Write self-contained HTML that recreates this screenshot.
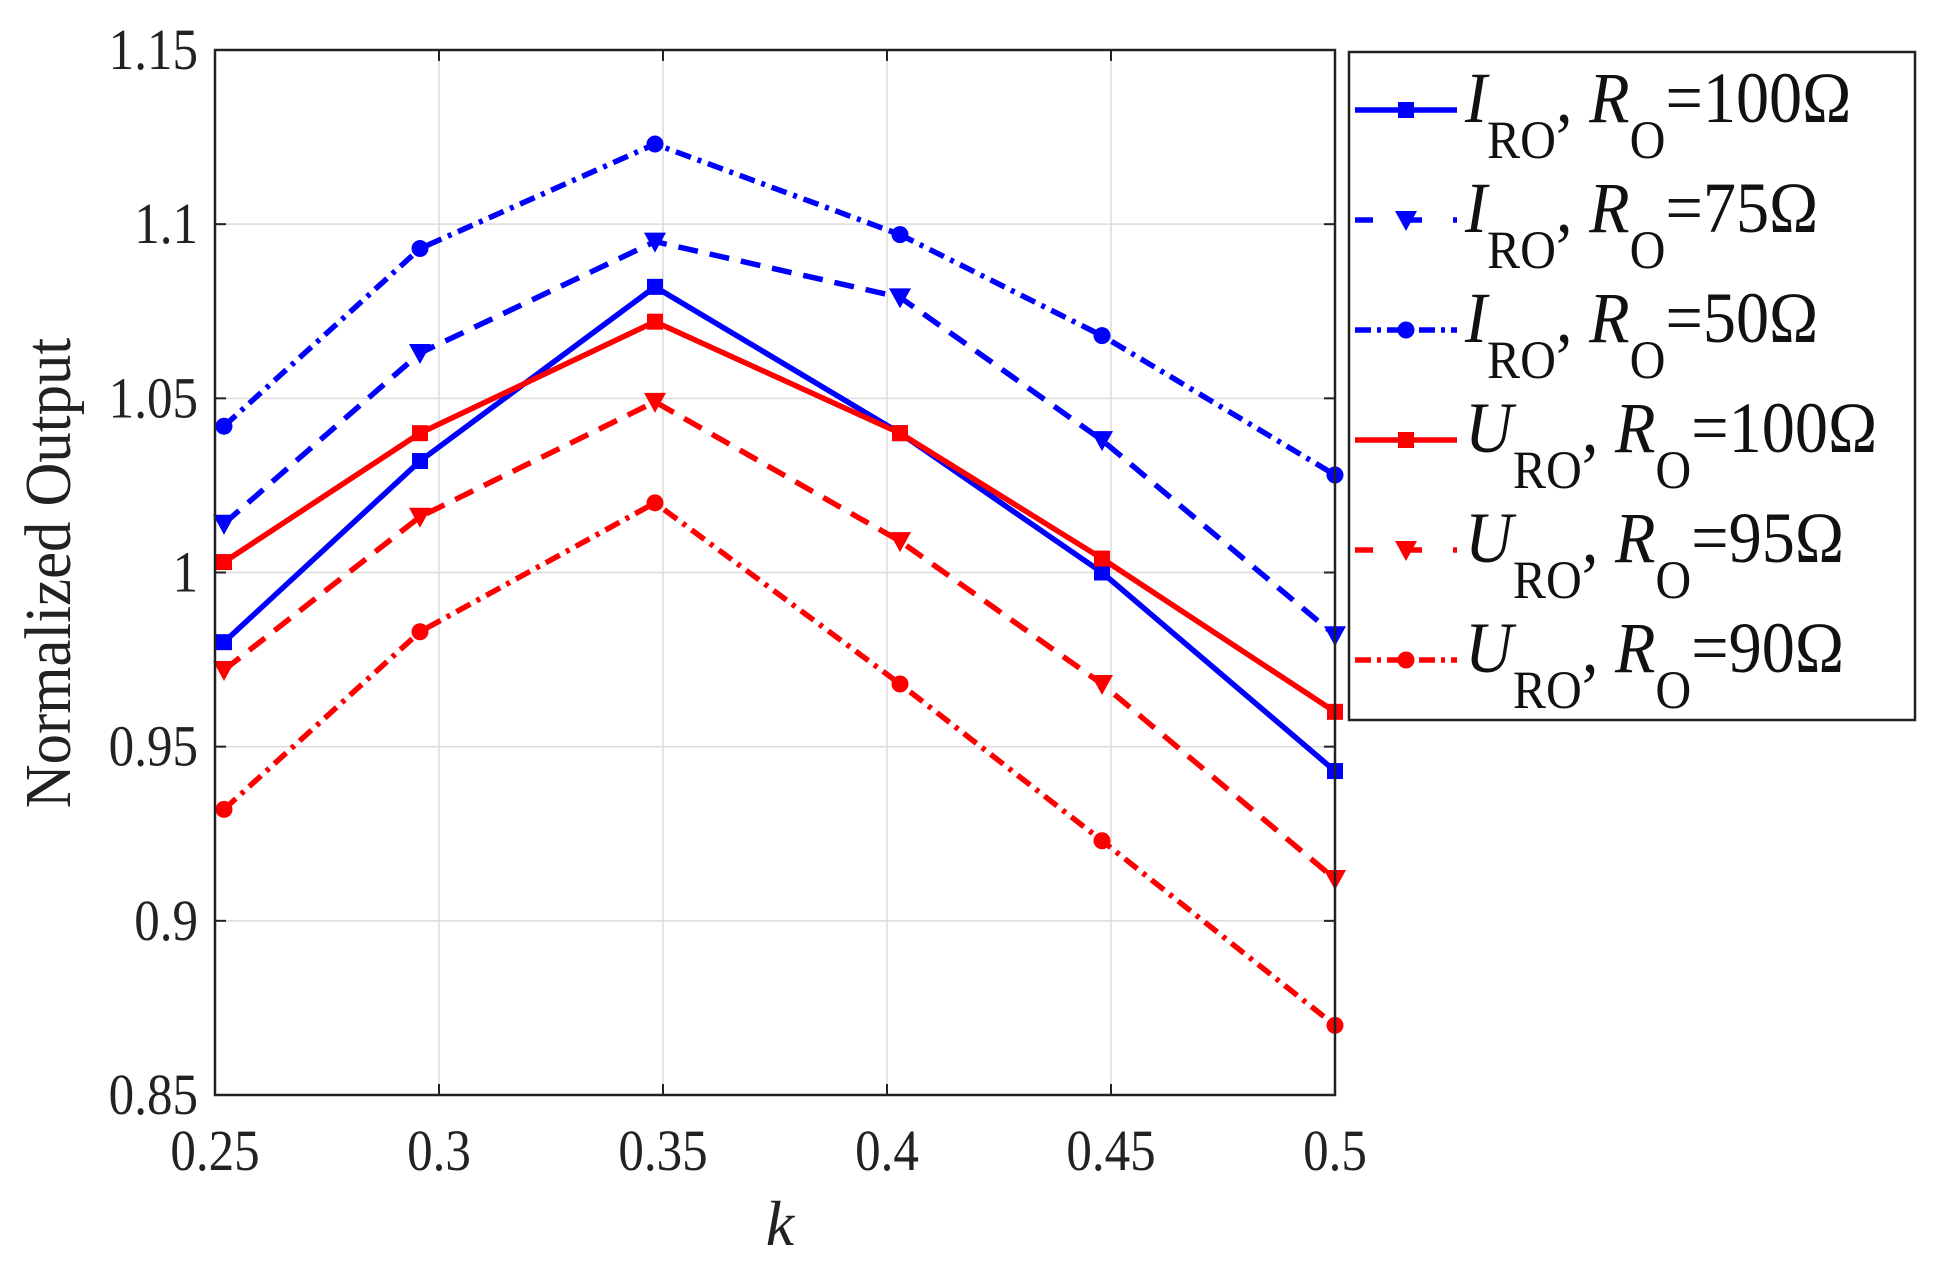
<!DOCTYPE html>
<html><head><meta charset="utf-8"><style>
html,body{margin:0;padding:0;background:#fff;}
svg{display:block;font-family:"Liberation Serif",serif;}
</style></head><body>
<svg id="s" width="1938" height="1263" viewBox="0 0 1938 1263" xmlns="http://www.w3.org/2000/svg">
<rect width="1938" height="1263" fill="#fff"/>
<g id="grid" stroke="#dcdcdc" stroke-width="1.5"></g>
<g id="series"></g>
<rect x="215" y="50" width="1120" height="1045" fill="none" stroke="#222" stroke-width="2.5"/>
<g id="ticks" stroke="#222" stroke-width="2"></g>
<g id="labels" font-size="58" fill="#222"></g>
<text x="780" y="1245" font-size="64" font-style="italic" text-anchor="middle" fill="#222">k</text>
<text transform="translate(70,573) rotate(-90) scale(0.92,1)" font-size="66" text-anchor="middle" fill="#222">Normalized Output</text>
<rect x="1349" y="52" width="566" height="668" fill="#fff" stroke="#222" stroke-width="2.5"/>
<g id="legend"></g>
</svg>
<script>
const NS="http://www.w3.org/2000/svg";
function el(p,t,a,txt){const e=document.createElementNS(NS,t);for(const k in a)e.setAttribute(k,a[k]);if(txt!==undefined)e.textContent=txt;(typeof p==='string'?document.getElementById(p):p).appendChild(e);return e;}
const L=215,R=1335,T=50,B=1095;
const Y=v=>T+(1.15-v)/0.3*(B-T);
const xt=[0.25,0.3,0.35,0.4,0.45,0.5];
xt.forEach((k,i)=>{const x=L+(R-L)*i/5;
 if(i>0&&i<5){el('grid','line',{x1:x,y1:T,x2:x,y2:B});}
 el('ticks','line',{x1:x,y1:B,x2:x,y2:B-11});el('ticks','line',{x1:x,y1:T,x2:x,y2:T+11});
 el('labels','text',{x:x,y:1170,'text-anchor':'middle',transform:`translate(${x},0) scale(0.88,1) translate(${-x},0)`},String(k));});
['0.85','0.9','0.95','1','1.05','1.1','1.15'].forEach(s=>{const y=Y(+s);
 if(s!=='0.85'&&s!=='1.15')el('grid','line',{x1:L,y1:y,x2:R,y2:y});
 el('ticks','line',{x1:L,y1:y,x2:L+11,y2:y});el('ticks','line',{x1:R,y1:y,x2:R-11,y2:y});
 el('labels','text',{x:198,y:y+19,'text-anchor':'end',transform:`translate(198,0) scale(0.88,1) translate(-198,0)`},s);});
const xs=[224,420,655,900,1102,1335];
const S=[
 {c:'#0000ff',d:'',m:'s',v:[0.98,1.032,1.082,1.04,1.0,0.943],n:'I',r:'100'},
 {c:'#0000ff',d:'20 12',m:'t',v:[1.014,1.063,1.095,1.079,1.038,0.982],n:'I',r:'75'},
 {c:'#0000ff',d:'16 7 4 7',m:'c',v:[1.042,1.093,1.123,1.097,1.068,1.028],n:'I',r:'50'},
 {c:'#ff0000',d:'',m:'s',v:[1.003,1.04,1.072,1.04,1.004,0.96],n:'U',r:'100'},
 {c:'#ff0000',d:'20 12',m:'t',v:[0.972,1.016,1.049,1.009,0.968,0.912],n:'U',r:'95'},
 {c:'#ff0000',d:'16 7 4 7',m:'c',v:[0.932,0.983,1.02,0.968,0.923,0.87],n:'U',r:'90'}];
function marker(g,m,x,y,c){
 if(m==='s')el(g,'rect',{x:x-8,y:y-8,width:16,height:16,fill:c});
 else if(m==='t')el(g,'polygon',{points:`${x-11},${y-9} ${x+11},${y-9} ${x},${y+11}`,fill:c});
 else el(g,'circle',{cx:x,cy:y,r:8.5,fill:c});}
S.forEach((s,j)=>{
 const pts=s.v.map((v,i)=>xs[i]+','+Y(v)).join(' ');
 const a={points:pts,fill:'none',stroke:s.c,'stroke-width':5.5,'stroke-linejoin':'round'};
 if(s.d)a['stroke-dasharray']=s.d;
 el('series','polyline',a);
 s.v.forEach((v,i)=>marker('series',s.m,xs[i],Y(v),s.c));
 const ly=110+j*110;
 const la={x1:1355,y1:ly,x2:1457,y2:ly,stroke:s.c,'stroke-width':5.5};
 if(s.d)la['stroke-dasharray']=s.d==='20 12'?'18 31':'16 6 4 6';
 el('legend','line',la);
 marker('legend',s.m,1406,ly,s.c);
 const t=el('legend','text',{x:1465,y:ly+12,'font-size':72,fill:'#111',transform:'translate(1465,0) scale(0.92,1) translate(-1465,0)'});
 const sp=(txt,attr)=>{const e=document.createElementNS(NS,'tspan');for(const k in attr)e.setAttribute(k,attr[k]);e.textContent=txt;t.appendChild(e);};
 sp(s.n,{'font-style':'italic'});
 sp('RO',{'font-size':54,dy:36});
 sp(', ',{dy:-36});
 sp('R',{'font-style':'italic'});
 sp('O',{'font-size':54,dy:36});
 sp('='+s.r+'Ω',{dy:-36});
});
</script>
</body></html>
